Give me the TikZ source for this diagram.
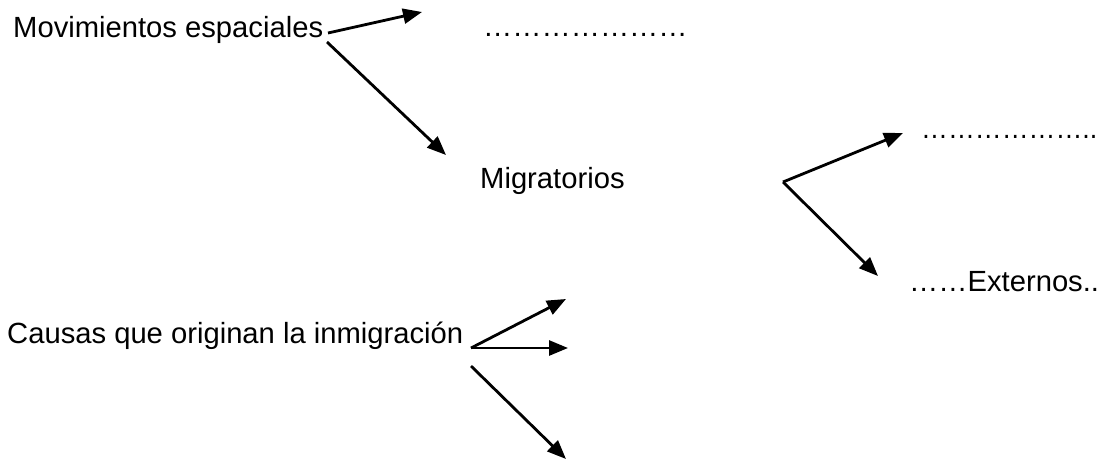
\documentclass[tikz,border=0pt]{standalone}
\usepackage{fontspec}
\setmainfont{Liberation Sans}
\usetikzlibrary{arrows.meta}
\newcommand{\el}{\char"2026\relax}
\tikzset{
  lbl/.style={inner sep=0pt, anchor=base west, font=\fontsize{29.2}{34}\selectfont},
  arr/.style={line width=2.8pt, -{Triangle[length=19pt,width=15pt]}}
}
\begin{document}
\begin{tikzpicture}[x=1pt,y=-1pt]
\useasboundingbox[fill=white] (0,0) rectangle (1105,461);
\node[lbl] (mov) at (13,37) {Movimientos espaciales};
\node[lbl] (dots1) at (483,36) {\el\el\el\el\el\el\el};
\node[lbl] (mig) at (480,188) {Migratorios};
\node[lbl] (dots2) at (921,138) {\scalebox{0.92}[1]{\el\el\el\el\el\el..}};
\node[lbl] (ext) at (909,291) {\el\el Externos..};
\node[lbl] (cau) at (7,343) {Causas que originan la inmigración};

\coordinate (m1) at (328,33);
\coordinate (m2) at (327,42);
\coordinate (t1) at (422,12);
\coordinate (t2) at (446,155);
\coordinate (g0) at (783,182);
\coordinate (g1) at (903,133);
\coordinate (g2) at (878,276);
\coordinate (c0) at (471,348);
\coordinate (c1) at (566,299);
\coordinate (c2) at (568,348);
\coordinate (c3) at (471,366);
\coordinate (c4) at (566,459);

\draw[arr] (m1) -- (t1);
\draw[arr] (m2) -- (t2);
\draw[arr] (g0) -- (g1);
\draw[arr] (g0) -- (g2);
\draw[arr] (c0) -- (c1);
\draw[arr] (c0) -- (c2);
\draw[arr] (c3) -- (c4);
\end{tikzpicture}
\end{document}
